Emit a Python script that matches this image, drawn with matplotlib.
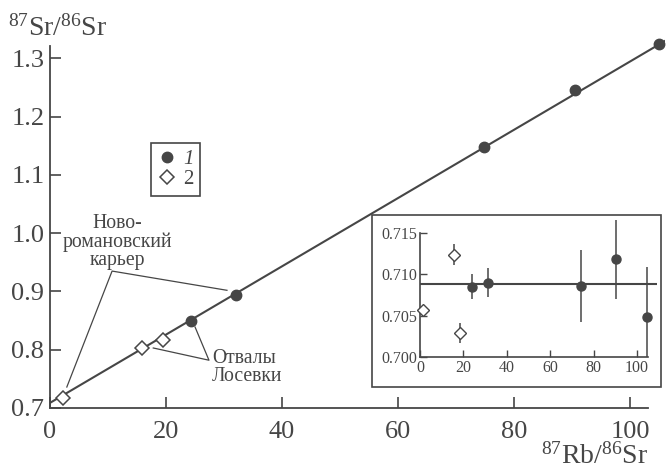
import numpy as np
import matplotlib
matplotlib.use("Agg")
from matplotlib import pyplot as plt
from matplotlib.patches import Rectangle
from matplotlib.lines import Line2D

plt.rcParams['font.family'] = ['Liberation Serif', 'DejaVu Serif']
plt.rcParams['mathtext.fontset'] = 'custom'
plt.rcParams['mathtext.rm'] = 'Liberation Serif'
plt.rcParams['mathtext.it'] = 'Liberation Serif:italic'

INK = '#464646'

# --- данные (основной график) ---
fill_x = [24.3, 32.0, 74.8, 90.5, 105.0]
fill_y = [0.849, 0.894, 1.148, 1.245, 1.324]
open_x = [2.2, 15.9, 19.5]
open_y = [0.717, 0.803, 0.817]
i0 = 0.7088        # начальное отношение
slope = 0.00586    # наклон изохроны

# --- данные (врезка) ---
ins_fill_x = [24.0, 31.3, 74.2, 90.3, 104.6]
ins_fill_y = [0.7085, 0.7090, 0.7086, 0.7118, 0.7049]
ins_fill_e = [0.0015, 0.0018, 0.0044, 0.0048, 0.0060]
ins_open_x = [1.4, 15.7, 18.6]
ins_open_y = [0.7057, 0.7124, 0.7029]
ins_open_e = [0.0, 0.00125, 0.0012]

fig = plt.figure(figsize=(6.66, 4.70), dpi=100)
ax = fig.add_axes([50/666, 62/470, 615/666, 370/470])

xl = np.linspace(0, 106, 50)
ax.plot(xl, i0 + slope*xl, color=INK, lw=1.5, zorder=2)
ax.plot(fill_x, fill_y, 'o', color=INK, ms=7.5, zorder=3, clip_on=False)
ax.plot(open_x, open_y, 'D', mfc='white', mec=INK, mew=1.1, ms=7.5, zorder=3)

ax.set_xlim(0, 106)
ax.set_ylim(0.7, 1.335)
for s in ['top', 'right']:
    ax.spines[s].set_visible(False)
ax.spines['bottom'].set_bounds(0, 103)
ax.spines['left'].set_bounds(0.7, 1.322)
for s in ['bottom', 'left']:
    ax.spines[s].set_color(INK)
    ax.spines[s].set_linewidth(1.3)
ax.set_xticks([0, 20, 40, 60, 80, 100])
ax.set_yticks([0.7, 0.8, 0.9, 1.0, 1.1, 1.2, 1.3])
ax.set_yticklabels(['0.7', '0.8', '0.9', '1.0', '1.1', '1.2', '1.3'])
ax.tick_params(direction='in', length=8, width=1.2, color=INK,
               labelcolor=INK, labelsize=19, pad=4)
ax.tick_params(axis='x', pad=9)

# подписи с выносками
ax.text(11.6, 0.985, 'Ново-\nроманов­ский\nкарьер'.replace('\u00ad', ''),
        ha='center', va='center', fontsize=14.2, color=INK, linespacing=0.92)
ax.plot([2.9, 10.7, 30.5], [0.736, 0.935, 0.902], color=INK, lw=0.9)
ax.text(27.9, 0.770, 'Отвалы\nЛосевки', ha='left', va='center',
        fontsize=14.2, color=INK, linespacing=0.92)
ax.plot([17.8, 27.4, 25.0], [0.803, 0.782, 0.839], color=INK, lw=0.9)

# легенда
h1 = Line2D([], [], ls='none', marker='o', color=INK, ms=7.5)
h2 = Line2D([], [], ls='none', marker='D', mfc='white', mec=INK, mew=1.1, ms=7.5)
leg = fig.legend([h1, h2], ['1', '2'], loc='upper left',
                 bbox_to_anchor=(151/666, 1 - 143/470), fancybox=False,
                 edgecolor=INK, fontsize=15, handlelength=0.9,
                 handletextpad=0.35, borderpad=0.3, labelspacing=0.05,
                 borderaxespad=0, framealpha=1)
leg.get_frame().set_linewidth(1.2)
for t in leg.get_texts():
    t.set_color(INK)
leg.get_texts()[0].set_style('italic')

# подписи осей
fig.text(8/666, 1 - 36/470, r'$^{87}$Sr/$^{86}$Sr', fontsize=20,
         color=INK, ha='left', va='baseline')
fig.text(648/666, 6/470, r'$^{87}$Rb/$^{86}$Sr', fontsize=20,
         color=INK, ha='right', va='baseline')

# врезка
box = Rectangle((372/666, 1 - 387/470), 289/666, 172/470,
                transform=fig.transFigure, facecolor='white',
                edgecolor=INK, lw=1.2, zorder=5)
fig.patches.append(box)

ins = fig.add_axes([420/666, 113/470, 236.5/666, 140.5/470], zorder=6)
ins.patch.set_alpha(0)
ins.axhline(i0, color=INK, lw=1.5, zorder=2)
ins.errorbar(ins_fill_x, ins_fill_y, yerr=ins_fill_e, fmt='o', color=INK,
             ms=6.5, elinewidth=1.1, capsize=0, zorder=3)
ins.errorbar(ins_open_x, ins_open_y, yerr=ins_open_e, fmt='D', mfc='white',
             mec=INK, mew=1.0, ecolor=INK, ms=6.5, elinewidth=1.1, capsize=0,
             zorder=3, clip_on=False)
ins.set_xlim(0, 109)
ins.set_ylim(0.700, 0.717)
for s in ['top', 'right']:
    ins.spines[s].set_visible(False)
ins.spines['bottom'].set_bounds(0, 105)
ins.spines['left'].set_bounds(0.700, 0.715)
for s in ['bottom', 'left']:
    ins.spines[s].set_color(INK)
    ins.spines[s].set_linewidth(1.2)
ins.set_xticks([0, 20, 40, 60, 80, 100])
ins.set_yticks([0.700, 0.705, 0.710, 0.715])
ins.set_yticklabels(['0.700', '0.705', '0.710', '0.715'])
ins.tick_params(direction='in', length=5, width=1.0, color=INK,
                labelcolor=INK, labelsize=11.5, pad=2)

fig.savefig('out.png', dpi=100, facecolor='white')
